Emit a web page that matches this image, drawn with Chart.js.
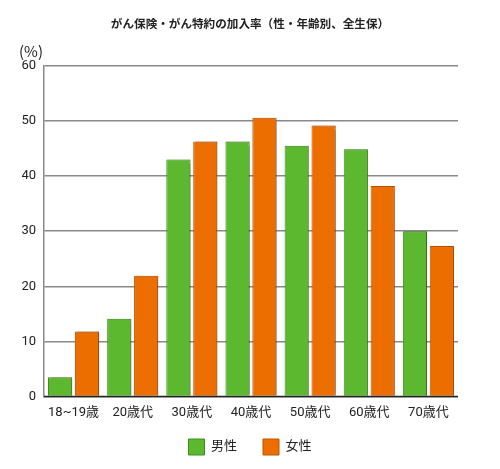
<!DOCTYPE html>
<html><head><meta charset="utf-8">
<script src="https://cdn.jsdelivr.net/npm/chart.js@4"></script>
<style>html,body{margin:0;padding:0;background:#fff;}#wrap{width:500px;height:469px;}</style>
</head><body><div id="wrap"><canvas id="c" width="500" height="469"></canvas></div>
<script>
const categories = ['18~19歳','20歳代','30歳代','40歳代','50歳代','60歳代','70歳代'];
const maleValues = [3.5, 14.1, 43.0, 46.3, 45.5, 44.9, 30.0];
const femaleValues = [11.8, 21.9, 46.3, 50.6, 49.2, 38.2, 27.3];
const seriesNames = ['男性','女性'];
const yTicks = [0,10,20,30,40,50,60];
const titleText = 'がん保険・がん特約の加入率（性・年齢別、全生保）';
const unitText = '(%)';

const FONT = "Roboto, 'Noto Sans CJK JP', sans-serif";

const decor = {
  id: 'decor',
  afterLayout(chart) {
    const lg = chart.legend;
    if (lg) { lg.left += 21; lg.right += 21; lg.top -= 17; lg.bottom -= 17; }
  },
  beforeDatasetDraw(chart) {
    const ctx = chart.ctx; ctx.save();
    ctx.shadowColor = 'rgba(0,0,0,0.3)'; ctx.shadowOffsetX = 1.5; ctx.shadowOffsetY = 0; ctx.shadowBlur = 1.5;
  },
  afterDatasetDraw(chart) { chart.ctx.restore(); },
  afterDraw(chart) {
    const ctx = chart.ctx; ctx.save();
    ctx.fillStyle = '#222';
    ctx.font = "bold 11.6px 'Noto Sans CJK JP', sans-serif";
    ctx.textAlign = 'center'; ctx.textBaseline = 'middle';
    ctx.fillText(titleText, 250, 24);
    ctx.font = "15px 'Noto Sans CJK JP', sans-serif";
    ctx.textAlign = 'left';
    ctx.fillText(unitText, 19, 51);
    const a = chart.chartArea;
    const y0 = chart.scales.y.getPixelForValue(0);
    ctx.strokeStyle = '#222'; ctx.lineWidth = 1.5;
    ctx.beginPath(); ctx.moveTo(a.left, Math.round(y0)+0.5); ctx.lineTo(a.right, Math.round(y0)+0.5); ctx.stroke();
    ctx.restore();
  }
};

new Chart(document.getElementById('c'), {
  type: 'bar',
  data: {
    labels: categories,
    datasets: [
      { label: seriesNames[0], data: maleValues, backgroundColor: '#5cb82e', borderColor: '#3f8e1c', borderWidth: 1 },
      { label: seriesNames[1], data: femaleValues, backgroundColor: '#ec6e00', borderColor: '#c25200', borderWidth: 1 }
    ]
  },
  options: {
    responsive: false,
    animation: false,
    devicePixelRatio: 1,
    layout: { padding: { top: 66, right: 42, left: 0, bottom: -13 } },
    datasets: { bar: { categoryPercentage: 0.91, barPercentage: 0.9 } },
    plugins: {
      title: { display: false },
      tooltip: { enabled: false },
      legend: {
        display: true, position: 'bottom',
        labels: { boxWidth: 16, boxHeight: 16, padding: 26, color: '#222', font: { family: FONT, size: 13 } }
      }
    },
    scales: {
      x: {
        grid: { display: false, drawTicks: false },
        border: { display: false },
        ticks: { color: '#222', padding: 9, font: { family: FONT, size: 13 } }
      },
      y: {
        min: 0, max: 60,
        afterFit(s) { s.width = 44; },
        afterBuildTicks(s) { s.ticks = yTicks.map(v => ({ value: v })); },
        grid: { color: '#8a8a8a', lineWidth: 1.5, drawTicks: false },
        border: { display: true, color: '#8a8a8a', width: 1.5 },
        ticks: { color: '#222', padding: 8, font: { family: FONT, size: 13 } }
      }
    }
  },
  plugins: [decor]
});
</script></body></html>
